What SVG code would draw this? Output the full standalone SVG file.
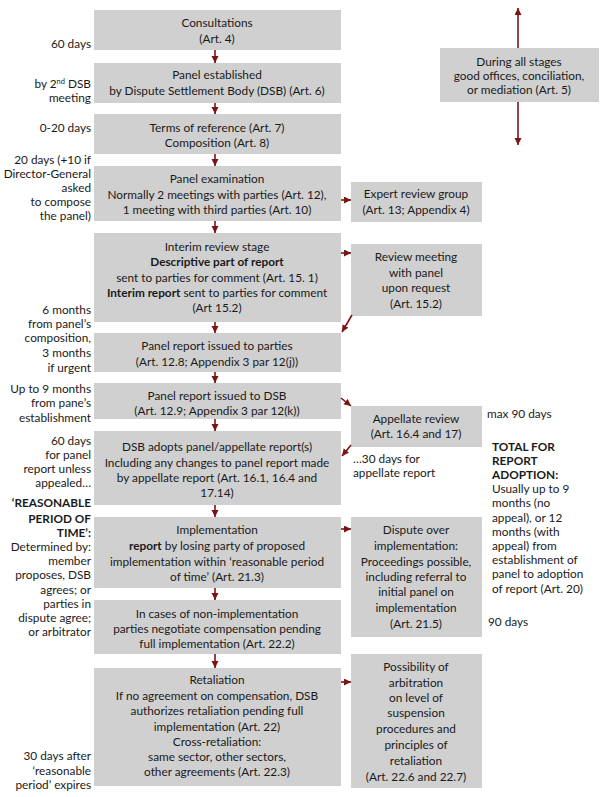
<svg xmlns="http://www.w3.org/2000/svg" width="609" height="797" viewBox="0 0 609 797">
<defs>
<marker id="ah" markerUnits="userSpaceOnUse" markerWidth="8" markerHeight="8" refX="7" refY="3.5" orient="auto">
<path d="M0,0 L7,3.5 L0,7 z" fill="#7b1416"/>
</marker>
<style>
.box{fill:#d0d0d0}
text{font-family:"Lato","Liberation Sans",sans-serif;font-size:11.8px;fill:#1a1a1a}
.c{text-anchor:middle}
.r{text-anchor:end}
.b{font-weight:bold}
.con line{stroke:#7b1416;stroke-width:1.6;marker-end:url(#ah)}
</style>
</defs>
<rect width="609" height="797" fill="#fff"/>

<g id="n1"><rect class="box" x="94" y="10" width="247" height="40"/>
<text class="c" x="217" y="27">Consultations</text><text class="c" x="217" y="43">(Art. 4)</text></g>
<g id="n2"><rect class="box" x="94" y="63" width="247" height="40"/>
<text class="c" x="217" y="79">Panel established</text><text class="c" x="217" y="95">by Dispute Settlement Body (DSB) (Art. 6)</text></g>
<g id="n3"><rect class="box" x="94" y="114" width="247" height="40"/>
<text class="c" x="217" y="132">Terms of reference (Art. 7)</text><text class="c" x="217" y="147">Composition (Art. 8)</text></g>
<g id="n4"><rect class="box" x="94" y="166" width="247" height="55"/>
<text class="c" x="217" y="183">Panel examination</text><text class="c" x="217" y="199">Normally 2 meetings with parties (Art. 12),</text><text class="c" x="217" y="214">1 meeting with third parties (Art. 10)</text></g>
<g id="n5"><rect class="box" x="94" y="233" width="247" height="89"/>
<text class="c" x="217" y="251">Interim review stage</text><text class="c b" x="217" y="266">Descriptive part of report</text><text class="c" x="217" y="282">sent to parties for comment (Art. 15. 1)</text><text class="c" x="217" y="297"><tspan class="b">Interim report</tspan> sent to parties for comment</text><text class="c" x="217" y="312">(Art 15.2)</text></g>
<g id="n6"><rect class="box" x="94" y="333" width="247" height="39"/>
<text class="c" x="217" y="350">Panel report issued to parties</text><text class="c" x="217" y="366">(Art. 12.8; Appendix 3 par 12(j))</text></g>
<g id="n7"><rect class="box" x="94" y="383" width="247" height="36"/>
<text class="c" x="217" y="400">Panel report issued to DSB</text><text class="c" x="217" y="415">(Art. 12.9; Appendix 3 par 12(k))</text></g>
<g id="n8"><rect class="box" x="94" y="431" width="247" height="74"/>
<text class="c" x="217" y="451">DSB adopts panel/appellate report(s)</text><text class="c" x="217" y="467">Including any changes to panel report made</text><text class="c" x="217" y="482">by appellate report (Art. 16.1, 16.4 and</text><text class="c" x="217" y="497">17.14)</text></g>
<g id="n9"><rect class="box" x="94" y="517" width="247" height="71"/>
<text class="c" x="217" y="534">Implementation</text><text class="c" x="217" y="550"><tspan class="b">report</tspan> by losing party of proposed</text><text class="c" x="217" y="566">implementation within ‘reasonable period</text><text class="c" x="217" y="581">of time’ (Art. 21.3)</text></g>
<g id="n10"><rect class="box" x="94" y="600" width="247" height="54"/>
<text class="c" x="217" y="618">In cases of non-implementation</text><text class="c" x="217" y="633">parties negotiate compensation pending</text><text class="c" x="217" y="648">full implementation (Art. 22.2)</text></g>
<g id="n11"><rect class="box" x="94" y="668" width="247" height="118"/>
<text class="c" x="217" y="684">Retaliation</text><text class="c" x="217" y="700">If no agreement on compensation, DSB</text><text class="c" x="217" y="715">authorizes retaliation pending full</text><text class="c" x="217" y="731">implementation (Art. 22)</text><text class="c" x="217" y="746">Cross-retaliation:</text><text class="c" x="217" y="761">same sector, other sectors,</text><text class="c" x="217" y="776">other agreements (Art. 22.3)</text></g>

<g id="n12"><rect class="box" x="351" y="182" width="131" height="40"/>
<text class="c" x="416" y="198">Expert review group</text><text class="c" x="416" y="214">(Art. 13; Appendix 4)</text></g>
<g id="n13"><rect class="box" x="351" y="244" width="131" height="72"/>
<text class="c" x="416" y="261">Review meeting</text><text class="c" x="416" y="277">with panel</text><text class="c" x="416" y="292">upon request</text><text class="c" x="416" y="308">(Art. 15.2)</text></g>
<g id="n14"><rect class="box" x="351" y="406" width="131" height="41"/>
<text class="c" x="416" y="423">Appellate review</text><text class="c" x="416" y="438">(Art. 16.4 and 17)</text></g>
<g id="n15"><rect class="box" x="351" y="517" width="131" height="120"/>
<text class="c" x="416" y="534">Dispute over</text><text class="c" x="416" y="550">implementation:</text><text class="c" x="416" y="566">Proceedings possible,</text><text class="c" x="416" y="581">including referral to</text><text class="c" x="416" y="596">initial panel on</text><text class="c" x="416" y="612">implementation</text><text class="c" x="416" y="628">(Art. 21.5)</text></g>
<g id="n16"><rect class="box" x="351" y="654" width="131" height="134"/>
<text class="c" x="416" y="671">Possibility of</text><text class="c" x="416" y="687">arbitration</text><text class="c" x="416" y="702">on level of</text><text class="c" x="416" y="717">suspension</text><text class="c" x="416" y="733">procedures and</text><text class="c" x="416" y="749">principles of</text><text class="c" x="416" y="765">retaliation</text><text class="c" x="416" y="781">(Art. 22.6 and 22.7)</text></g>
<g id="n17"><rect class="box" x="440" y="48" width="159" height="54"/>
<text class="c" x="519" y="66">During all stages</text><text class="c" x="519" y="80">good offices, conciliation,</text><text class="c" x="519" y="94">or mediation (Art. 5)</text></g>

<g id="labels">
<text class="r" x="91" y="48">60 days</text>
<text class="r" x="91" y="88">by 2<tspan font-size="7.5" dy="-4">nd</tspan><tspan dy="4"> DSB</tspan></text>
<text class="r" x="91" y="102">meeting</text>
<text class="r" x="91" y="132">0-20 days</text>
<text class="r" x="91" y="164">20 days (+10 if</text>
<text class="r" x="91" y="178" font-size="11">Director-General</text>
<text class="r" x="91" y="192">asked</text>
<text class="r" x="91" y="206">to compose</text>
<text class="r" x="91" y="220">the panel)</text>
<text class="r" x="91" y="314">6 months</text>
<text class="r" x="91" y="328">from panel’s</text>
<text class="r" x="91" y="342">composition,</text>
<text class="r" x="91" y="357">3 months</text>
<text class="r" x="91" y="372">if urgent</text>
<text class="r" x="91" y="393">Up to 9 months</text>
<text class="r" x="91" y="407">from pane’s</text>
<text class="r" x="91" y="422">establishment</text>
<text class="r" x="91" y="445">60 days</text>
<text class="r" x="91" y="459">for panel</text>
<text class="r" x="91" y="473">report unless</text>
<text class="r" x="91" y="487">appealed…</text>
<text class="r b" x="91" y="507">‘REASONABLE</text>
<text class="r b" x="91" y="523">PERIOD OF</text>
<text class="r b" x="91" y="537">TIME’:</text>
<text class="r" x="91" y="551">Determined by:</text>
<text class="r" x="91" y="565">member</text>
<text class="r" x="91" y="579">proposes, DSB</text>
<text class="r" x="91" y="594">agrees; or</text>
<text class="r" x="91" y="608">parties in</text>
<text class="r" x="91" y="622">dispute agree;</text>
<text class="r" x="91" y="636">or arbitrator</text>
<text class="r" x="91" y="760">30 days after</text>
<text class="r" x="91" y="775">‘reasonable</text>
<text class="r" x="91" y="789">period’ expires</text>
<text x="353" y="463">…30 days for</text>
<text x="353" y="477">appellate report</text>
<text x="487" y="418">max 90 days</text>
<text class="b" x="492" y="451">TOTAL FOR</text>
<text class="b" x="492" y="465">REPORT</text>
<text class="b" x="492" y="479">ADOPTION:</text>
<text x="492" y="493">Usually up to 9</text>
<text x="492" y="507">months (no</text>
<text x="492" y="522">appeal), or 12</text>
<text x="492" y="536">months (with</text>
<text x="492" y="550">appeal) from</text>
<text x="492" y="564">establishment of</text>
<text x="492" y="578">panel to adoption</text>
<text x="492" y="593">of report (Art. 20)</text>
<text x="488" y="626">90 days</text>
</g>

<g class="con" id="connectors">
<line x1="215" y1="50" x2="215" y2="63"/>
<line x1="215" y1="103" x2="215" y2="114"/>
<line x1="215" y1="154" x2="215" y2="166"/>
<line x1="215" y1="221" x2="215" y2="233"/>
<line x1="215" y1="322" x2="215" y2="333"/>
<line x1="215" y1="372" x2="215" y2="383"/>
<line x1="215" y1="419" x2="215" y2="431"/>
<line x1="215" y1="505" x2="215" y2="517"/>
<line x1="215" y1="588" x2="215" y2="600"/>
<line x1="215" y1="654" x2="215" y2="668"/>
<line x1="341" y1="200" x2="351" y2="200"/>
<line x1="341" y1="253" x2="351" y2="253"/>
<line x1="352" y1="315" x2="342" y2="332"/>
<line x1="341" y1="398" x2="351" y2="406"/>
<line x1="351" y1="445" x2="342" y2="456"/>
<line x1="341" y1="529" x2="351" y2="529"/>
<line x1="341" y1="682" x2="351" y2="682"/>
<line x1="518" y1="48" x2="518" y2="8"/>
<line x1="518" y1="102" x2="518" y2="145"/>
</g>
</svg>
